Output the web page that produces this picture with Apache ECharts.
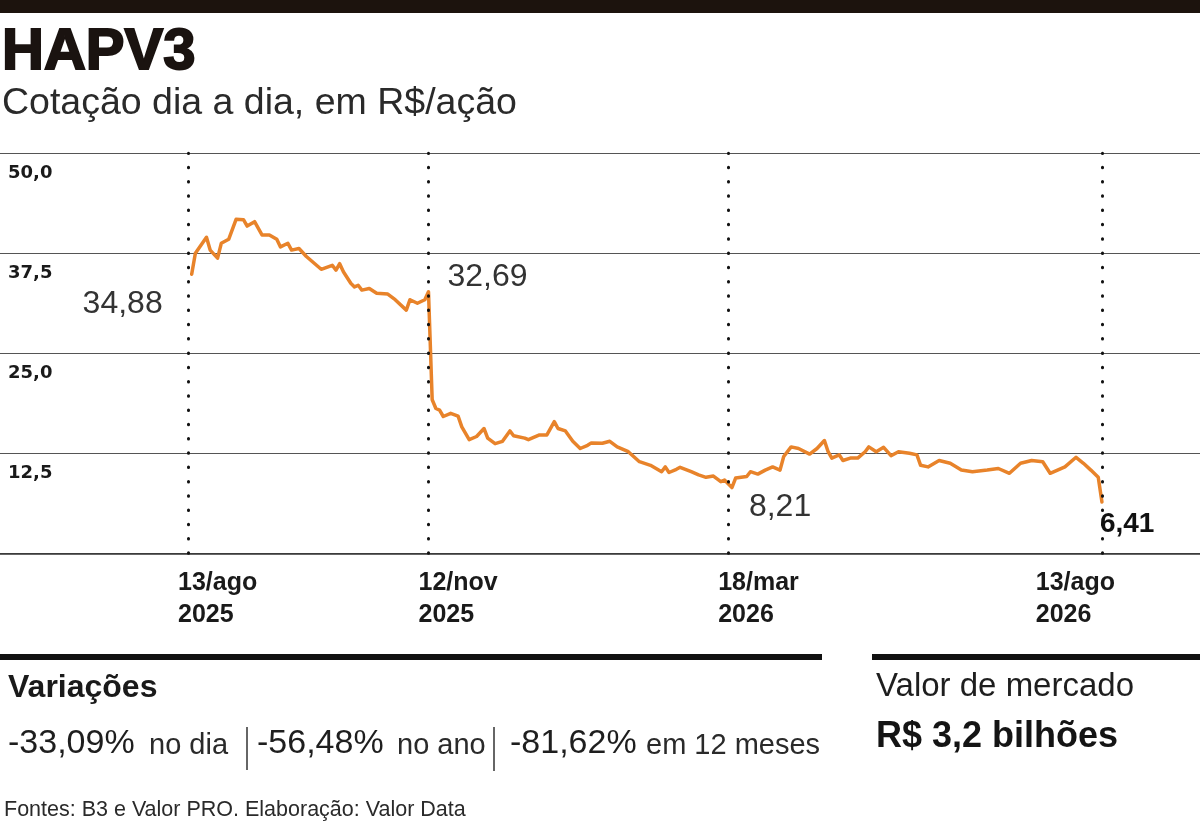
<!DOCTYPE html>
<html><head><meta charset="utf-8">
<script src="https://cdn.jsdelivr.net/npm/echarts@6/dist/echarts.min.js"></script>
<style>html,body{margin:0;padding:0;background:#fff}#c{width:1200px;height:824px}</style>
</head><body><div id="c"></div>
<script>
// trading-session number (0 = 13/ago/2025) and closing price (R$)
const sessions = [1,2,5,6,8,9,11,13,15,16,18,20,22,24,25,27,28,30,32,36,39,40,41,42,44,45,46,47,49,51,54,56,59,60,62,64,65,
  66,67,68,69,71,73,74,76,78,80,81,83,85,87,88,91,92,95,97,99,100,102,104,106,108,109,112,114,116,119,122,125,128,129,130,132,133,136,138,140,142,144,145,147,
  148,151,152,154,156,158,160,161,163,165,168,170,172,173,174,176,177,179,181,183,184,186,188,190,192,195,197,198,200,203,206,209,212,216,219,222,225,228,231,233,237,240,242,244,246,247];
const prices = [34.88,37.5,39.5,37.9,36.9,38.75,39.25,41.75,41.7,40.9,41.45,39.8,39.8,39.25,38.3,38.75,37.9,38.1,37.1,35.5,36.0,35.4,36.2,35.2,33.75,33.3,33.5,32.9,33.1,32.5,32.4,31.7,30.4,31.7,31.25,31.7,32.69,
  19.2,18.1,17.9,17.1,17.5,17.15,15.8,14.2,14.6,15.6,14.4,13.7,14.0,15.3,14.7,14.4,14.2,14.8,14.8,16.45,15.6,15.3,14.0,13.1,13.5,13.8,13.75,14.0,13.3,12.7,11.45,11.0,10.2,10.8,10.1,10.5,10.75,10.2,9.8,9.5,9.65,8.95,9.15,8.21,
  9.4,9.6,10.2,9.9,10.4,10.8,10.4,12.1,13.3,13.1,12.4,13.1,14.1,12.7,11.9,12.3,11.6,11.9,11.9,12.7,13.3,12.7,13.25,12.2,12.7,12.5,12.3,11.0,10.8,11.6,11.25,10.4,10.2,10.4,10.6,10.0,11.25,11.6,11.45,10.0,10.8,12.0,11.25,10.4,9.5,6.41];
const yTickValues = [12.5, 25, 37.5, 50];
const yTickLabels = ['12,5', '25,0', '37,5', '50,0'];
const markerSessions = [0, 65, 146, 247];
const markerDays = ['13/ago', '12/nov', '18/mar', '13/ago'];
const markerYears = ['2025', '2025', '2026', '2026'];
const annotSessions = [1, 65, 147, 247];

const fmtBR = v => v.toFixed(2).replace('.', ',');
const annotStyles = [
  {position: 'left', offset: [-24, 30]},
  {position: 'right', offset: [14, -15]},
  {position: 'right', offset: [12, 20]},
  {position: 'right', offset: [-7, 22], fontWeight: 'bold', fontSize: 28, color: '#111'}
];
const annotData = annotSessions.map((s, k) => {
  const i = sessions.indexOf(s);
  return {name: fmtBR(prices[i]), coord: [s, prices[i]], label: annotStyles[k]};
});

const xLabelFmt = v => {
  const i = markerSessions.indexOf(v);
  return i < 0 ? '' : '{a|' + markerDays[i] + '}\n{a|' + markerYears[i] + '}';
};
const xRich = {a: {fontFamily: 'Liberation Sans', fontWeight: 'bold', fontSize: 25, lineHeight: 32, color: '#1a1a1a', align: 'left'}};
const XMIN = -50.8, XMAX = 273.5;

const chart = echarts.init(document.getElementById('c'), null, {renderer: 'canvas'});
const txt = (x, y, text, font, extra) => ({type: 'text', x: x, y: y, silent: true,
  style: Object.assign({text: text, font: font, fill: '#1e1e1e', align: 'left', verticalAlign: 'middle'}, extra || {})});
chart.setOption({
  animation: false,
  backgroundColor: '#fff',
  grid: {left: 0, right: 0, top: 153.3, bottom: 270.7, containLabel: false},
  xAxis: [
    {type: 'value', min: XMIN, max: XMAX,
     axisLine: {show: true, lineStyle: {color: '#333', width: 1.5}},
     axisTick: {show: false}, splitLine: {show: false},
     axisLabel: {customValues: markerSessions.slice(0, 3), formatter: xLabelFmt, rich: xRich,
       align: 'left', verticalAlign: 'top', margin: 14, padding: [0, 0, 0, -10]}},
    {type: 'value', min: XMIN, max: XMAX, position: 'bottom',
     axisLine: {show: false}, axisTick: {show: false}, splitLine: {show: false},
     axisLabel: {customValues: markerSessions.slice(3), formatter: xLabelFmt, rich: xRich,
       align: 'right', verticalAlign: 'top', margin: 14, padding: [0, -13, 0, 0]}}
  ],
  yAxis: {type: 'value', min: 0, max: 50, interval: 12.5,
    axisLine: {show: false}, axisTick: {show: false},
    splitLine: {lineStyle: {color: '#555', width: 1}},
    axisLabel: {inside: true, margin: 8, align: 'left', verticalAlign: 'top', padding: [11, 0, 0, 0],
      fontFamily: 'DejaVu Sans', fontWeight: 'bold', fontSize: 18, color: '#1a1a1a',
      formatter: v => { const i = yTickValues.indexOf(v); return i < 0 ? '' : yTickLabels[i]; }}},
  series: [{
    type: 'line', xAxisIndex: 0,
    data: sessions.map((s, i) => [s, prices[i]]),
    showSymbol: false, symbol: 'none',
    lineStyle: {color: '#E8832A', width: 3.5, join: 'round', cap: 'round'},
    itemStyle: {color: '#E8832A'},
    z: 3,
    markLine: {silent: true, symbol: ['none', 'none'], label: {show: false},
      lineStyle: {color: '#111', width: 3, type: [0.5, 13.78], cap: 'round'},
      data: markerSessions.map(s => ({xAxis: s}))},
    markPoint: {silent: true, symbol: 'circle', symbolSize: 0,
      label: {show: true, fontFamily: 'Liberation Sans', fontSize: 32, color: '#333', formatter: p => p.name},
      data: annotData}
  }],
  graphic: [
    {type: 'rect', shape: {x: 0, y: 0, width: 1200, height: 13}, style: {fill: '#1c130d'}, silent: true},
    txt(2, 53, 'HAPV3', 'bold 58px "Liberation Sans"', {fill: '#1a1310', stroke: '#1a1310', lineWidth: 2}),
    txt(2, 104, 'Cotação dia a dia, em R$/ação', '37.5px "Liberation Sans"', {fill: '#2a2a2a'}),
    {type: 'rect', shape: {x: 0, y: 654, width: 822, height: 6}, style: {fill: '#111'}, silent: true},
    {type: 'rect', shape: {x: 872, y: 654, width: 328, height: 6}, style: {fill: '#111'}, silent: true},
    txt(8, 688, 'Variações', 'bold 32px "Liberation Sans"', {fill: '#1a1a1a'}),
    txt(8, 744, '-33,09%', '34px "Liberation Sans"'),
    txt(149, 746, 'no dia', '29px "Liberation Sans"', {fill: '#2a2a2a'}),
    {type: 'line', shape: {x1: 247, y1: 727, x2: 247, y2: 770}, style: {stroke: '#333', lineWidth: 1.5}, silent: true},
    txt(257, 744, '-56,48%', '34px "Liberation Sans"'),
    txt(397, 746, 'no ano', '29px "Liberation Sans"', {fill: '#2a2a2a'}),
    {type: 'line', shape: {x1: 494, y1: 727, x2: 494, y2: 771}, style: {stroke: '#333', lineWidth: 1.5}, silent: true},
    txt(510, 744, '-81,62%', '34px "Liberation Sans"'),
    txt(646, 746, 'em 12 meses', '29px "Liberation Sans"', {fill: '#2a2a2a'}),
    txt(876, 686.5, 'Valor de mercado', '33px "Liberation Sans"', {fill: '#1e1e1e'}),
    txt(876, 737.5, 'R$ 3,2 bilhões', 'bold 36px "Liberation Sans"', {fill: '#141414'}),
    txt(4, 810, 'Fontes: B3 e Valor PRO. Elaboração: Valor Data', '21.5px "Liberation Sans"', {fill: '#2a2a2a'})
  ]
});
</script>
</body></html>
